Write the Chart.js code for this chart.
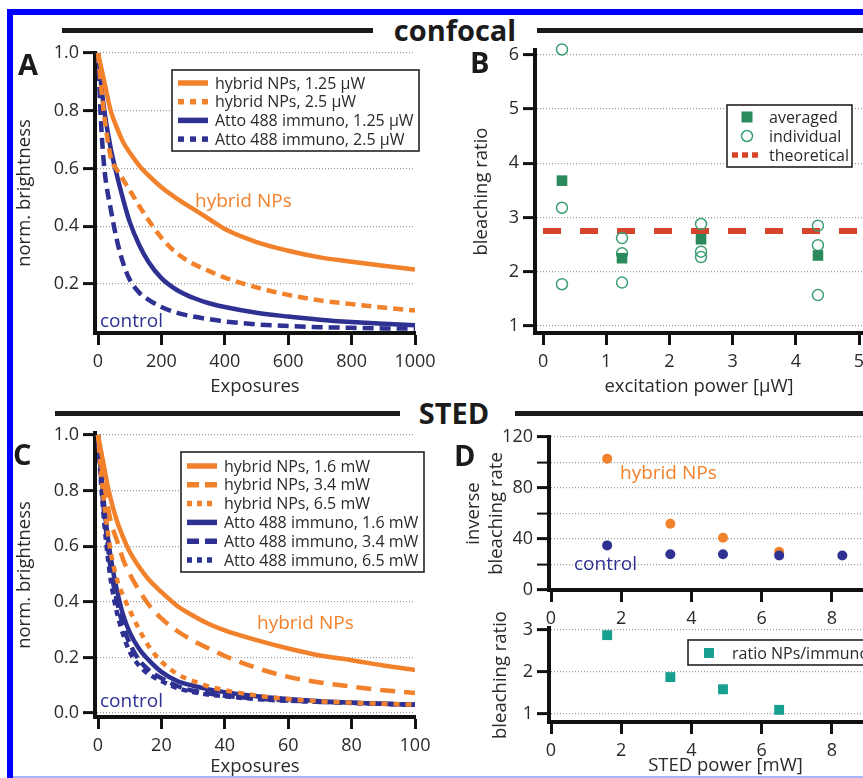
<!DOCTYPE html>
<html>
<head>
<meta charset="utf-8">
<script src="https://cdn.jsdelivr.net/npm/chart.js@4/dist/chart.umd.min.js"></script>
<style>
html, body { margin: 0; padding: 0; background: #fff; }
#fig { position: relative; width: 863px; height: 778px; overflow: hidden; font-family: 'Open Sans', sans-serif; }
#fig canvas { position: absolute; }
.bar { position: absolute; background: #1b1b1b; height: 5px; }
.frame { position: absolute; background: #0000ff; }
.hd { position: absolute; font-weight: 700; font-size: 29px; line-height: 29px; color: #1b1b1b; text-align: center; }
.lt { position: absolute; font-weight: 700; font-size: 29px; line-height: 28px; color: #1b1b1b; }
.an { position: absolute; font-size: 19px; line-height: 20px; white-space: nowrap; }
</style>
</head>
<body>
<div id="fig">
  <div class="frame" style="left:7px;top:9px;width:6px;height:769px"></div>
  <div class="frame" style="left:7px;top:9px;width:856px;height:6px"></div>
  <div class="frame" style="left:13px;top:776px;width:850px;height:2px;background:#aab2ff"></div>

  <div class="bar" style="left:62px;top:28px;width:311px"></div>
  <div class="hd" style="left:355px;top:15px;width:200px">confocal</div>
  <div class="bar" style="left:537px;top:28px;width:326px"></div>

  <div class="bar" style="left:55px;top:411px;width:345px"></div>
  <div class="hd" style="left:354px;top:398px;width:200px">STED</div>
  <div class="bar" style="left:515px;top:411px;width:348px"></div>

  <canvas id="cA" width="445" height="365" style="left:0;top:35px"></canvas>
  <canvas id="cB" width="460" height="365" style="left:440px;top:35px"></canvas>
  <canvas id="cC" width="445" height="363" style="left:0;top:415px"></canvas>
  <canvas id="cD1" width="470" height="215" style="left:440px;top:420px"></canvas>
  <canvas id="cD2" width="470" height="168" style="left:440px;top:610px"></canvas>

  <div class="lt" style="left:18px;top:50px">A</div>
  <div class="lt" style="left:470px;top:48px">B</div>
  <div class="lt" style="left:13px;top:440px">C</div>
  <div class="lt" style="left:454px;top:441px">D</div>

  <div class="an" style="left:195px;top:190px;color:#f2812c">hybrid NPs</div>
  <div class="an" style="left:100px;top:310px;color:#2e3192">control</div>
  <div class="an" style="left:257px;top:612px;color:#f2812c">hybrid NPs</div>
  <div class="an" style="left:100px;top:690px;color:#2e3192">control</div>
  <div class="an" style="left:620px;top:462px;color:#f2812c">hybrid NPs</div>
  <div class="an" style="left:574px;top:553px;color:#2e3192">control</div>
</div>
<script>
// A: confocal bleaching curves
const expA = [0, 10, 20, 40, 60, 80, 100, 130, 160, 200, 250, 300, 350, 400, 500, 600, 700, 800, 900, 1000];
const nps125 = [1.0, 0.95, 0.90, 0.80, 0.74, 0.69, 0.655, 0.61, 0.575, 0.535, 0.495, 0.46, 0.425, 0.39, 0.345, 0.315, 0.292, 0.277, 0.263, 0.25];
const nps25 = [1.0, 0.88, 0.78, 0.64, 0.595, 0.56, 0.525, 0.47, 0.42, 0.36, 0.305, 0.27, 0.245, 0.222, 0.188, 0.162, 0.143, 0.13, 0.118, 0.108];
const atto125 = [1.0, 0.89, 0.80, 0.67, 0.575, 0.49, 0.415, 0.335, 0.275, 0.22, 0.178, 0.152, 0.133, 0.12, 0.10, 0.087, 0.076, 0.068, 0.062, 0.057];
const atto25 = [1.0, 0.75, 0.60, 0.46, 0.35, 0.27, 0.215, 0.17, 0.145, 0.12, 0.10, 0.087, 0.078, 0.07, 0.06, 0.054, 0.05, 0.048, 0.046, 0.045];
const xTicksA = [0, 200, 400, 600, 800, 1000];
const yTicksA = [0.2, 0.4, 0.6, 0.8, 1.0];

// B: confocal bleaching ratio
const powAvg = [0.3, 1.25, 2.5, 4.35];
const ratioAvg = [3.68, 2.25, 2.6, 2.3];
const powInd = [0.3, 0.3, 0.3, 1.25, 1.25, 1.25, 2.5, 2.5, 2.5, 4.35, 4.35, 4.35];
const ratioInd = [6.1, 3.18, 1.77, 2.62, 2.34, 1.8, 2.88, 2.37, 2.27, 2.85, 2.49, 1.57];
const theoRatio = 2.75;
const xTicksB = [0, 1, 2, 3, 4, 5];
const yTicksB = [1, 2, 3, 4, 5, 6];

// C: STED bleaching curves
const expC = [0, 1, 2, 3, 4, 6, 8, 10, 13, 16, 20, 25, 30, 35, 40, 50, 60, 70, 80, 90, 100];
const nps16 = [1.0, 0.94, 0.88, 0.82, 0.77, 0.69, 0.63, 0.58, 0.525, 0.48, 0.435, 0.385, 0.35, 0.32, 0.297, 0.262, 0.232, 0.207, 0.19, 0.171, 0.155];
const nps34 = [1.0, 0.90, 0.82, 0.75, 0.69, 0.62, 0.55, 0.50, 0.44, 0.39, 0.34, 0.295, 0.26, 0.232, 0.205, 0.162, 0.13, 0.11, 0.095, 0.082, 0.072];
const nps65 = [1.0, 0.86, 0.75, 0.66, 0.58, 0.48, 0.42, 0.37, 0.30, 0.24, 0.185, 0.14, 0.115, 0.095, 0.082, 0.063, 0.05, 0.042, 0.037, 0.033, 0.03];
const atto16 = [1.0, 0.86, 0.74, 0.64, 0.56, 0.44, 0.35, 0.29, 0.23, 0.19, 0.148, 0.115, 0.098, 0.085, 0.075, 0.06, 0.05, 0.042, 0.037, 0.033, 0.03];
const atto34 = [1.0, 0.84, 0.71, 0.61, 0.52, 0.40, 0.31, 0.25, 0.19, 0.155, 0.125, 0.097, 0.08, 0.07, 0.062, 0.052, 0.045, 0.04, 0.037, 0.033, 0.03];
const atto65 = [1.0, 0.82, 0.68, 0.57, 0.48, 0.36, 0.28, 0.22, 0.17, 0.14, 0.115, 0.09, 0.075, 0.066, 0.06, 0.05, 0.044, 0.04, 0.036, 0.033, 0.03];
const xTicksC = [0, 20, 40, 60, 80, 100];
const yTicksC = [0.0, 0.2, 0.4, 0.6, 0.8, 1.0];

// D: STED inverse bleaching rate and ratio
const stedNps = [1.6, 3.4, 4.9, 6.5];
const invNps = [103, 52, 41, 30];
const stedCtrl = [1.6, 3.4, 4.9, 6.5, 8.3];
const invCtrl = [35, 28, 28, 27, 27];
const ratioSted = [2.88, 1.88, 1.59, 1.1];
const xTicksD = [0, 2, 4, 6, 8, 10];
const yTicksD1 = [0, 20, 40, 60, 80, 100, 120];
const yTicksD2 = [1, 2, 3];

const ORANGE = '#f2812c';
const BLUE = '#2e3192';
const GREEN = '#2b8a5b';
const RED = '#d5442b';
const TEAL = '#17a08f';
const INK = '#2a2a2a';
const FONT = "'Open Sans', sans-serif";

const pts = (xs, ys) => xs.map((x, i) => ({ x: x, y: ys[i] }));

const curve = (label, xs, ys, color, dash) => ({
  label: label, data: pts(xs, ys), showLine: true,
  borderColor: color, borderWidth: 4.5, borderDash: dash || [],
  borderCapStyle: 'butt', pointRadius: 0, cubicInterpolationMode: 'monotone'
});

// legend drawn as a framed box inside the plot
const boxLegend = {
  id: 'boxLegend',
  afterDatasetsDraw(chart, args, o) {
    if (!o.items) return;
    const ctx = chart.ctx;
    ctx.save();
    ctx.fillStyle = '#fff';
    ctx.fillRect(o.x, o.y, o.w, o.h);
    ctx.lineWidth = 1.6;
    ctx.strokeStyle = '#222';
    ctx.strokeRect(o.x, o.y, o.w, o.h);
    ctx.font = "16px 'Open Sans'";
    ctx.textBaseline = 'middle';
    o.items.forEach((it, k) => {
      const ds = chart.data.datasets[it.i];
      const y = o.row0 + k * o.rowH;
      if (ds.showLine) {
        ctx.setLineDash(it.dash || []);
        ctx.lineWidth = 5.5;
        ctx.strokeStyle = ds.borderColor;
        ctx.beginPath();
        ctx.moveTo(o.sx0, y);
        ctx.lineTo(o.sx1, y);
        ctx.stroke();
        ctx.setLineDash([]);
      } else {
        const cx = (o.sx0 + o.sx1) / 2, r = it.r || 5;
        ctx.fillStyle = ds.pointBackgroundColor;
        ctx.strokeStyle = ds.pointBorderColor;
        ctx.lineWidth = ds.pointBorderWidth || 1;
        if (ds.pointStyle === 'rect') {
          ctx.fillRect(cx - r, y - r, 2 * r, 2 * r);
        } else {
          ctx.beginPath();
          ctx.arc(cx, y, r, 0, Math.PI * 2);
          ctx.fill();
          ctx.stroke();
        }
      }
      ctx.fillStyle = INK;
      ctx.fillText(ds.label, o.tx, y + 1);
    });
    ctx.restore();
  }
};

function xAxis(min, max, ticks, title, titlePad, height) {
  return {
    type: 'linear', min: min, max: max,
    afterBuildTicks: s => { s.ticks = ticks.map(v => ({ value: v })); },
    afterFit: s => { s.height = height; s.paddingLeft = 0; s.paddingRight = 0; },
    border: { color: '#111', width: 4 },
    grid: { drawOnChartArea: false, tickLength: 12, tickColor: '#111', tickWidth: 3 },
    ticks: { color: INK, font: { family: FONT, size: 18 }, padding: 6, maxRotation: 0, autoSkip: false,
      callback: v => String(v) },
    title: { display: !!title, text: title || '', color: INK, font: { family: FONT, size: 18.5 }, padding: { top: 0, bottom: titlePad } }
  };
}

function yAxis(min, max, ticks, title, titlePad, width, fmt, tickW) {
  return {
    type: 'linear', min: min, max: max,
    afterBuildTicks: s => { s.ticks = ticks.map(v => ({ value: v })); },
    afterFit: s => { s.width = width; s.paddingTop = 0; s.paddingBottom = 0; },
    border: { color: '#111', width: 4, dash: [1, 2] },
    grid: { color: '#9a9a9a', lineWidth: 1.2, tickLength: 12, tickColor: '#111', tickWidth: tickW || 3 },
    ticks: { color: INK, font: { family: FONT, size: 18 }, padding: 4, autoSkip: false, callback: fmt || (v => String(v)) },
    title: { display: true, text: title, color: INK, font: { family: FONT, size: 18.5 }, padding: { top: titlePad, bottom: 0 } }
  };
}

function panel(id, datasets, x, y, pad, legend) {
  return new Chart(document.getElementById(id), {
    type: 'scatter',
    data: { datasets: datasets },
    options: {
      responsive: false, animation: false, events: [],
      layout: { padding: pad },
      plugins: { legend: { display: false }, tooltip: { enabled: false }, boxLegend: legend || {} },
      scales: { x: x, y: y }
    },
    plugins: legend ? [boxLegend] : []
  });
}

const oneDec = v => v.toFixed(1);

panel('cA', [
  curve('hybrid NPs, 1.25 µW', expA, nps125, ORANGE),
  curve('hybrid NPs, 2.5 µW', expA, nps25, ORANGE, [10, 6]),
  curve('Atto 488 immuno, 1.25 µW', expA, atto125, BLUE),
  curve('Atto 488 immuno, 2.5 µW', expA, atto25, BLUE, [11, 6])
],
  xAxis(-9.5, 1000, xTicksA, 'Exposures', 2, 67),
  yAxis(0.03, 1.0, yTicksA, 'norm. brightness', 14, 95, oneDec),
  { top: 18, right: 30, left: 0, bottom: 0 },
  { x: 172, y: 35, w: 247, h: 81, row0: 48, rowH: 18.7, sx0: 178, sx1: 208, tx: 215,
    items: [{ i: 0 }, { i: 1, dash: [6, 6] }, { i: 2 }, { i: 3, dash: [6, 6] }] });

panel('cB', [
  { label: 'averaged', data: pts(powAvg, ratioAvg), pointStyle: 'rect', pointRadius: 7.5,
    pointBackgroundColor: GREEN, pointBorderColor: GREEN, pointBorderWidth: 0, clip: false },
  { label: 'individual', data: pts(powInd, ratioInd), pointStyle: 'circle', pointRadius: 5.5,
    pointBackgroundColor: 'rgba(0,0,0,0)', pointBorderColor: '#3c9e73', pointBorderWidth: 1.5, clip: false },
  { label: 'theoretical', data: pts([0, 5.5], [theoRatio, theoRatio]), showLine: true, pointRadius: 0,
    borderColor: RED, borderWidth: 6, borderDash: [18, 19], borderCapStyle: 'butt' }
],
  xAxis(-0.127, 5.063, xTicksB, 'excitation power [µW]', 2, 67),
  yAxis(0.87, 6.09, yTicksB, 'bleaching ratio', 31, 95),
  { top: 15, right: 37, left: 0, bottom: 0 },
  { x: 287, y: 70, w: 125, h: 62, row0: 82, rowH: 19, sx0: 292, sx1: 322, tx: 329,
    items: [{ i: 0, r: 5.5 }, { i: 1, r: 5.5 }, { i: 2, dash: [6, 4] }] });

panel('cC', [
  curve('hybrid NPs, 1.6 mW', expC, nps16, ORANGE),
  curve('hybrid NPs, 3.4 mW', expC, nps34, ORANGE, [15, 9]),
  curve('hybrid NPs, 6.5 mW', expC, nps65, ORANGE, [6, 6]),
  curve('Atto 488 immuno, 1.6 mW', expC, atto16, BLUE),
  curve('Atto 488 immuno, 3.4 mW', expC, atto34, BLUE, [12, 6]),
  curve('Atto 488 immuno, 6.5 mW', expC, atto65, BLUE, [6, 5])
],
  xAxis(-0.95, 100, xTicksC, 'Exposures', 0, 61),
  yAxis(-0.0144, 1.0072, yTicksC, 'norm. brightness', 14, 95, oneDec),
  { top: 18, right: 30, left: 0, bottom: 0 },
  { x: 181, y: 37, w: 243, h: 120, row0: 51, rowH: 18.8, sx0: 187, sx1: 217, tx: 224,
    items: [{ i: 0 }, { i: 1, dash: [12, 6] }, { i: 2, dash: [5, 5] }, { i: 3 }, { i: 4, dash: [12, 6] }, { i: 5, dash: [5, 5] }] });

panel('cD1', [
  { label: 'control', data: pts(stedCtrl, invCtrl), pointStyle: 'circle', pointRadius: 5,
    pointBackgroundColor: BLUE, pointBorderColor: BLUE, pointBorderWidth: 0 },
  { label: 'hybrid NPs', data: pts(stedNps, invNps), pointStyle: 'circle', pointRadius: 5,
    pointBackgroundColor: ORANGE, pointBorderColor: ORANGE, pointBorderWidth: 0 }
],
  xAxis(-0.057, 10, xTicksD, null, 0, 45),
  yAxis(0, 120, yTicksD1, ['inverse', 'bleaching rate'], 23, 109,
    v => (v % 40 === 0 ? String(v) : ''), c => (c.tick && c.tick.value % 40 === 0 ? 3 : 2)),
  { top: 17, right: 8, left: 0, bottom: 0 });

panel('cD2', [
  { label: 'ratio NPs/immuno', data: pts(stedNps, ratioSted), pointStyle: 'rect', pointRadius: 7,
    pointBackgroundColor: TEAL, pointBorderColor: TEAL, pointBorderWidth: 0 }
],
  xAxis(-0.057, 10, xTicksD, 'STED power [mW]', 1, 56),
  yAxis(0.81, 3.05, yTicksD2, 'bleaching ratio', 50, 109),
  { top: 18, right: 8, left: 0, bottom: 0 },
  { x: 248, y: 30, w: 200, h: 25, row0: 43, rowH: 19, sx0: 258, sx1: 280, tx: 292,
    items: [{ i: 0, r: 5 }] });
</script>
</body>
</html>
